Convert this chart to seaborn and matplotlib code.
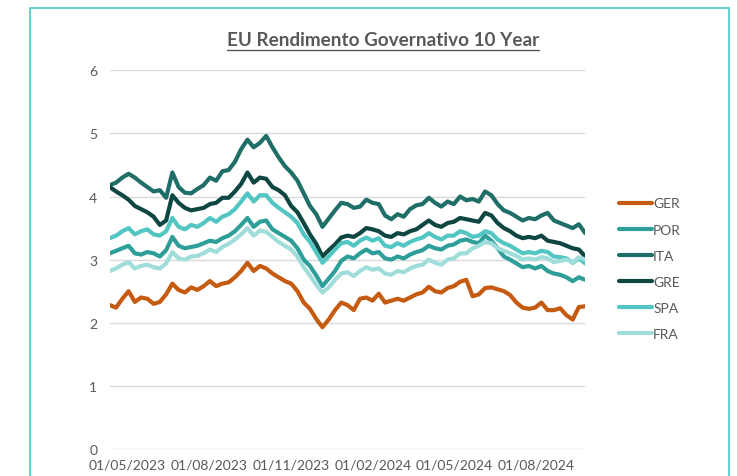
import pandas as pd
import numpy as np
import matplotlib
matplotlib.use("Agg")
import matplotlib.pyplot as plt
import matplotlib.dates as mdates
import seaborn as sns
from matplotlib.transforms import ScaledTranslation
from matplotlib.lines import Line2D
from matplotlib.patches import Rectangle

# Weekly 10y yields (May 2023 - Oct 2024)
dates = pd.date_range("2023-05-01", periods=77, freq="7D")

ger = [2.28, 2.24, 2.38, 2.50, 2.33, 2.40, 2.38, 2.30, 2.33, 2.45,
       2.62, 2.52, 2.48, 2.56, 2.52, 2.58, 2.66, 2.58, 2.62, 2.64,
       2.72, 2.82, 2.95, 2.82, 2.90, 2.86, 2.78, 2.72, 2.66, 2.62,
       2.50, 2.32, 2.22, 2.06, 1.93, 2.05, 2.20, 2.32, 2.28, 2.20,
       2.38, 2.40, 2.35, 2.46, 2.32, 2.35, 2.38, 2.35, 2.40, 2.45,
       2.48, 2.57, 2.50, 2.48, 2.55, 2.58, 2.65, 2.68, 2.42, 2.45,
       2.55, 2.56, 2.53, 2.50, 2.44, 2.32, 2.24, 2.22, 2.24, 2.32,
       2.20, 2.20, 2.23, 2.12, 2.05, 2.25, 2.26]

por = [3.10, 3.14, 3.18, 3.22, 3.10, 3.08, 3.12, 3.10, 3.05, 3.15,
       3.36, 3.22, 3.18, 3.20, 3.22, 3.26, 3.30, 3.28, 3.34, 3.38,
       3.45, 3.55, 3.66, 3.52, 3.60, 3.62, 3.48, 3.42, 3.36, 3.30,
       3.18, 3.00, 2.90, 2.75, 2.58, 2.70, 2.82, 2.98, 3.05, 3.02,
       3.10, 3.16, 3.10, 3.12, 3.02, 3.00, 3.05, 3.02, 3.08, 3.12,
       3.15, 3.22, 3.18, 3.16, 3.22, 3.24, 3.30, 3.32, 3.28, 3.26,
       3.38, 3.30, 3.18, 3.05, 3.00, 2.94, 2.88, 2.90, 2.86, 2.90,
       2.82, 2.78, 2.76, 2.72, 2.66, 2.72, 2.68]

ita = [4.18, 4.22, 4.30, 4.36, 4.30, 4.22, 4.15, 4.08, 4.10, 3.98,
       4.38, 4.15, 4.06, 4.05, 4.12, 4.18, 4.30, 4.25, 4.40, 4.42,
       4.55, 4.75, 4.90, 4.78, 4.85, 4.96, 4.78, 4.62, 4.48, 4.38,
       4.25, 4.05, 3.85, 3.72, 3.52, 3.65, 3.78, 3.90, 3.88, 3.82,
       3.84, 3.95, 3.90, 3.88, 3.70, 3.64, 3.72, 3.68, 3.80, 3.86,
       3.88, 3.98, 3.90, 3.84, 3.92, 3.88, 4.00, 3.94, 3.96, 3.92,
       4.08, 4.02, 3.88, 3.78, 3.74, 3.68, 3.62, 3.66, 3.64, 3.70,
       3.74, 3.62, 3.58, 3.54, 3.50, 3.56, 3.42]

gre = [4.15, 4.08, 4.02, 3.95, 3.85, 3.80, 3.75, 3.68, 3.55, 3.62,
       4.02, 3.90, 3.82, 3.78, 3.80, 3.82, 3.88, 3.90, 3.98, 3.98,
       4.08, 4.20, 4.38, 4.22, 4.30, 4.28, 4.15, 4.10, 4.02, 3.85,
       3.75, 3.58, 3.40, 3.25, 3.05, 3.15, 3.24, 3.35, 3.38, 3.36,
       3.42, 3.50, 3.48, 3.45, 3.38, 3.36, 3.42, 3.40, 3.45, 3.48,
       3.55, 3.62, 3.55, 3.52, 3.58, 3.60, 3.66, 3.64, 3.62, 3.60,
       3.74, 3.70, 3.58, 3.50, 3.45, 3.38, 3.34, 3.36, 3.34, 3.38,
       3.30, 3.28, 3.26, 3.22, 3.18, 3.16, 3.05]

spa = [3.34, 3.38, 3.45, 3.50, 3.40, 3.45, 3.48, 3.40, 3.38, 3.45,
       3.66, 3.52, 3.48, 3.55, 3.52, 3.58, 3.66, 3.60, 3.68, 3.72,
       3.80, 3.92, 4.05, 3.92, 4.02, 4.02, 3.90, 3.82, 3.75, 3.68,
       3.58, 3.40, 3.28, 3.12, 2.95, 3.05, 3.16, 3.26, 3.28, 3.22,
       3.30, 3.35, 3.30, 3.34, 3.22, 3.20, 3.26, 3.22, 3.28, 3.32,
       3.35, 3.42, 3.36, 3.32, 3.38, 3.38, 3.45, 3.42, 3.36, 3.38,
       3.45, 3.42, 3.32, 3.26, 3.22, 3.16, 3.10, 3.12, 3.10, 3.14,
       3.12, 3.05, 3.04, 3.02, 2.95, 3.02, 2.94]

fra = [2.82, 2.86, 2.92, 2.96, 2.86, 2.90, 2.92, 2.88, 2.86, 2.94,
       3.12, 3.02, 3.00, 3.05, 3.06, 3.10, 3.16, 3.12, 3.20, 3.25,
       3.32, 3.40, 3.50, 3.38, 3.46, 3.44, 3.36, 3.28, 3.22, 3.16,
       3.05, 2.88, 2.75, 2.60, 2.48, 2.56, 2.68, 2.78, 2.80, 2.74,
       2.82, 2.88, 2.84, 2.86, 2.78, 2.76, 2.82, 2.80, 2.86, 2.90,
       2.92, 3.00, 2.95, 2.92, 3.00, 3.02, 3.10, 3.10, 3.18, 3.22,
       3.28, 3.26, 3.18, 3.14, 3.10, 3.06, 3.00, 3.02, 3.00, 3.04,
       3.02, 2.96, 2.98, 3.00, 2.96, 3.04, 3.00]

series = ["GER", "POR", "ITA", "GRE", "SPA", "FRA"]
colors = {"GER": "#C55A11", "POR": "#2E9E99", "ITA": "#1F6E68",
          "GRE": "#0E4642", "SPA": "#52C6C2", "FRA": "#9FDDDA"}
tick_dates = pd.to_datetime(["2023-05-01", "2023-08-01", "2023-11-01",
                             "2024-02-01", "2024-05-01", "2024-08-01"])

df = pd.DataFrame({"Date": dates, "GER": ger, "POR": por, "ITA": ita,
                   "GRE": gre, "SPA": spa, "FRA": fra})
df = df.melt(id_vars="Date", var_name="Paese", value_name="Rendimento")

sns.set_theme(style="white")
plt.rcParams["font.family"] = ["Lato", "DejaVu Sans"]
grey = "#595959"

fig = plt.figure(figsize=(7.37, 4.77), dpi=100)
ax = fig.add_axes([0.149, 0.0566, 0.645, 0.794])

sns.lineplot(data=df, x="Date", y="Rendimento", hue="Paese", hue_order=series,
             palette=colors, linewidth=3.0, legend=False, ax=ax)

ax.set_ylim(0, 6)
ax.set_xlim(dates[0], dates[-1])
ax.set_yticks(range(7))
ax.set_xticks(tick_dates)
ax.xaxis.set_major_formatter(mdates.DateFormatter("%d/%m/%Y"))
ax.grid(axis="y", color="#D9D9D9", linewidth=1)
ax.grid(axis="x", visible=False)
ax.set_axisbelow(True)
for s in ax.spines.values():
    s.set_visible(False)
ax.set_xlabel("")
ax.set_ylabel("")
ax.tick_params(axis="both", length=0, colors=grey, labelsize=10)
ax.tick_params(axis="x", pad=7)
ax.tick_params(axis="y", pad=9)

# Excel draws the date labels slightly right of their tick
shift = ScaledTranslation(17 / 100, 0, fig.dpi_scale_trans)
for lab in ax.get_xticklabels():
    lab.set_transform(lab.get_transform() + shift)

handles = [Line2D([0], [0], color=colors[s], linewidth=3.0) for s in series]
fig.legend(handles, series, loc="upper left",
           bbox_to_anchor=(606 / 737, 1 - 186 / 477), frameon=False,
           handlelength=2.4, handletextpad=0.1, labelspacing=1.02,
           fontsize=10, labelcolor=grey)

# title with underline
title = fig.text(383 / 737, 1 - 41 / 477, "EU Rendimento Governativo 10 Year",
                 ha="center", va="center", fontsize=13.6, fontweight="bold",
                 color=grey)
fig.canvas.draw()
bb = title.get_window_extent().transformed(fig.transFigure.inverted())
fig.add_artist(Line2D([bb.x0, bb.x1], [1 - 51 / 477] * 2,
                      transform=fig.transFigure, color=grey, linewidth=1))

# outer frame
fig.add_artist(Rectangle((30 / 737, -0.05), (729 - 30) / 737, 1.05 - 9 / 477,
                         transform=fig.transFigure, fill=False,
                         edgecolor="#5CC9D1", linewidth=1.3))

fig.savefig("out.png", dpi=100)
